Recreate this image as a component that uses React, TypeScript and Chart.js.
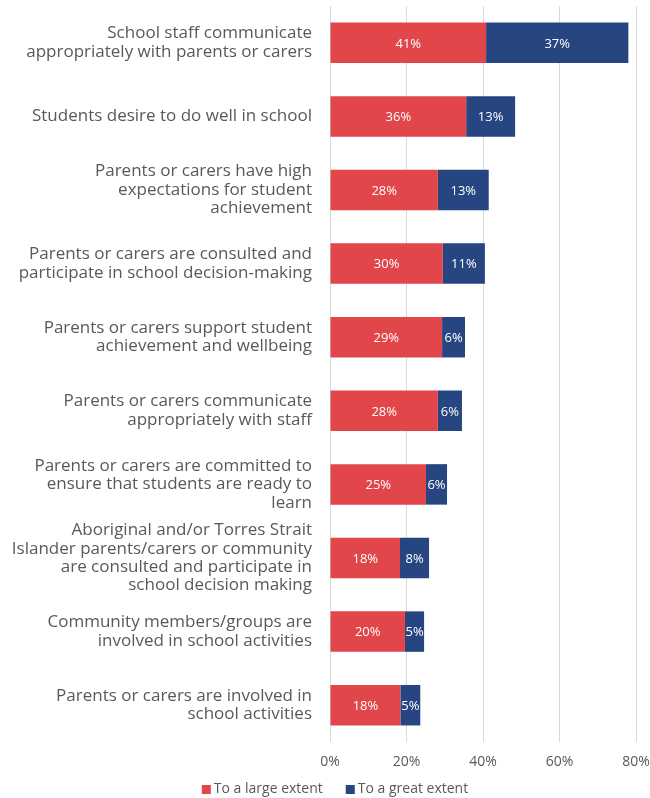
import React, { useEffect, useRef } from "react";
import { Chart, registerables } from "chart.js";

Chart.register(...registerables);

const categories: string[][] = [
  ["School staff communicate", "appropriately with parents or carers"],
  ["Students desire to do well in school"],
  ["Parents or carers have high", "expectations for student", "achievement"],
  ["Parents or carers are consulted and", "participate in school decision-making"],
  ["Parents or carers support student", "achievement and wellbeing"],
  ["Parents or carers communicate", "appropriately with staff"],
  ["Parents or carers are committed to", "ensure that students are ready to", "learn"],
  ["Aboriginal and/or Torres Strait", "Islander parents/carers or community", "are consulted and participate in", "school decision making"],
  ["Community members/groups are", "involved in school activities"],
  ["Parents or carers are involved in", "school activities"],
];

const largeExtent = [40.8, 35.6, 28.2, 29.5, 29.3, 28.2, 25.1, 18.3, 19.6, 18.4];
const greatExtent = [37.2, 12.8, 13.3, 11.0, 6.0, 6.3, 5.5, 7.6, 5.0, 5.2];

const seriesNames = ["To a large extent", "To a great extent"];
const seriesColors = ["#E0464A", "#274681"];
const xTicks = [0, 20, 40, 60, 80];

const FONT = "'Open Sans', Lato, sans-serif";

const labelPlugin = {
  id: "barLabels",
  afterDatasetsDraw(chart: any) {
    const ctx = chart.ctx;
    ctx.save();
    ctx.fillStyle = "#ffffff";
    ctx.font = `13px ${FONT}`;
    ctx.textAlign = "center";
    ctx.textBaseline = "middle";
    chart.data.datasets.forEach((ds: any, di: number) => {
      const meta = chart.getDatasetMeta(di);
      meta.data.forEach((bar: any, i: number) => {
        const v = ds.data[i];
        const x = (bar.x + bar.base) / 2;
        ctx.fillText(`${Math.round(v)}%`, x, bar.y + 1);
      });
    });
    ctx.restore();
  },
};

const legendPlugin = {
  id: "customLegend",
  afterDraw(chart: any) {
    const ctx = chart.ctx;
    ctx.save();
    ctx.font = `14px ${FONT}`;
    ctx.textBaseline = "middle";
    ctx.textAlign = "left";
    const box = 9;
    const gapBoxText = 3;
    const gapItems = 23;
    const widths = chart.data.datasets.map((ds: any) => box + gapBoxText + ctx.measureText(ds.label).width);
    const total = widths.reduce((a: number, b: number) => a + b, 0) + gapItems * (widths.length - 1);
    const cy = chart.height - 8.5;
    let x = 335 - total / 2;
    chart.data.datasets.forEach((ds: any, i: number) => {
      ctx.fillStyle = ds.backgroundColor;
      ctx.fillRect(x, cy - box / 2, box, box);
      ctx.fillStyle = "#595959";
      ctx.fillText(ds.label, x + box + gapBoxText, cy);
      x += widths[i] + gapItems;
    });
    ctx.restore();
  },
};

export default function App() {
  const ref = useRef<HTMLCanvasElement | null>(null);
  useEffect(() => {
    if (!ref.current) return;
    const chart = new Chart(ref.current, {
      type: "bar",
      data: {
        labels: categories,
        datasets: [
          {
            label: seriesNames[0],
            data: largeExtent,
            backgroundColor: seriesColors[0],
            borderWidth: 0,
            categoryPercentage: 0.55,
            barPercentage: 1,
          },
          {
            label: seriesNames[1],
            data: greatExtent,
            backgroundColor: seriesColors[1],
            borderWidth: 0,
            categoryPercentage: 0.55,
            barPercentage: 1,
          },
        ],
      },
      options: {
        indexAxis: "y",
        animation: false,
        responsive: false,
        maintainAspectRatio: false,
        layout: { padding: { top: 6, right: 0, bottom: 27, left: 0 } },
        plugins: {
          legend: { display: false },
          tooltip: { enabled: false },
        },
        scales: {
          x: {
            stacked: true,
            min: 0,
            max: 80,
            afterBuildTicks: (s: any) => {
              s.ticks = xTicks.map((v) => ({ value: v }));
            },
            afterFit: (s: any) => {
              s.paddingRight = 14;
              s.paddingLeft = 0;
              s.height = 29;
            },
            grid: { color: "#d9d9d9", drawTicks: false, lineWidth: 1 },
            border: { display: false },
            ticks: {
              color: "#595959",
              padding: 12,
              font: { family: FONT, size: 14 },
              callback: (v: any) => `${v}%`,
            },
          },
          y: {
            stacked: true,
            grid: { display: false },
            border: { display: false },
            afterFit: (s: any) => {
              s.width = 330;
              s.paddingTop = 0;
              s.paddingBottom = 0;
            },
            ticks: {
              autoSkip: false,
              color: "#595959",
              padding: 10,
              font: { family: FONT, size: 17, lineHeight: 1.08 },
            },
          },
        },
      },
      plugins: [labelPlugin, legendPlugin],
    });
    return () => chart.destroy();
  }, []);
  return (
    <div style={{ position: "fixed", left: 0, top: 0, width: 650, height: 798, background: "#fff" }}>
      <canvas ref={ref} width={650} height={798} style={{ display: "block" }} />
    </div>
  );
}
